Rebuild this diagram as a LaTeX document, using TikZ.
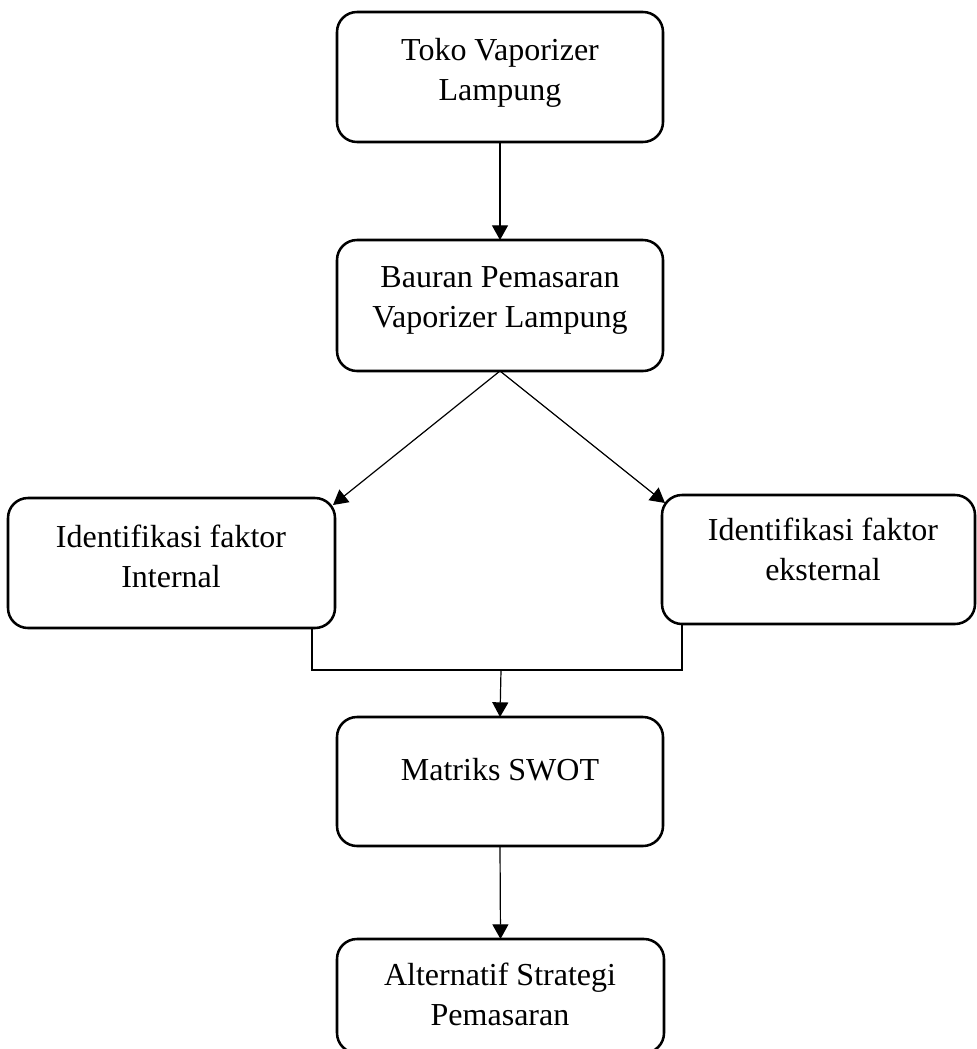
\documentclass[tikz,border=0pt]{standalone}
\usepackage{fontspec}
\setmainfont{Liberation Serif}
\usetikzlibrary{arrows.meta}
\begin{document}
\begin{tikzpicture}[x=0.75pt,y=-0.75pt,
  box/.style={draw, line width=1.9pt, rounded corners=15pt, inner sep=0pt, outer sep=0pt, anchor=north west},
  lbl/.style={align=center, anchor=base, inner sep=0pt, font=\fontsize{24}{30}\selectfont},
  conn/.style={draw, line width=0.9pt},
  arr/.style={conn, -{Triangle[length=11pt,width=12pt]}}]
\path[use as bounding box] (0,0) rectangle (977,1049);
\clip (0,0) rectangle (977,1049);
% boxes
\node[box, minimum width=244.5pt, minimum height=97.5pt] (B1) at (337,12) {};
\node[box, minimum width=244.5pt, minimum height=98.25pt] (B2) at (337,240) {};
\node[box, minimum width=245.25pt, minimum height=97.5pt] (L) at (8,498) {};
\node[box, minimum width=234.75pt, minimum height=96.75pt] (R) at (662,495) {};
\node[box, minimum width=244.5pt, minimum height=96.75pt] (M) at (337,717) {};
\node[box, minimum width=245.25pt, minimum height=85.5pt] (A) at (337,939) {};
% texts (anchor = baseline of last line)
\node[lbl] (T1) at (500,100) {Toko Vaporizer\\Lampung};
\node[lbl] (T2) at (500,327) {Bauran Pemasaran\\Vaporizer Lampung};
\node[lbl] (TL) at (171,587) {Identifikasi faktor\\Internal};
\node[lbl] (TR) at (823,580) {Identifikasi faktor\\eksternal};
\node[lbl] (TM) at (500,780) {Matriks SWOT};
\node[lbl] (TA) at (500,1025) {Alternatif Strategi\\Pemasaran};
% connectors
\coordinate (J) at (501,670);
\draw[arr] (B1.south) -- (B2.north);
\draw[arr] (B2.south) -- ([xshift=-1.5pt,yshift=-5.25pt]L.north east);
\draw[arr] (B2.south) -- ([xshift=2.25pt,yshift=-6pt]R.north west);
\draw[conn] ([xshift=-17.25pt]L.south east) |- (J) -| ([xshift=15pt]R.south west);
\draw[arr] (J) -- (M.north);
\draw[arr] (M.south) -- (A.north);
\end{tikzpicture}
\end{document}
